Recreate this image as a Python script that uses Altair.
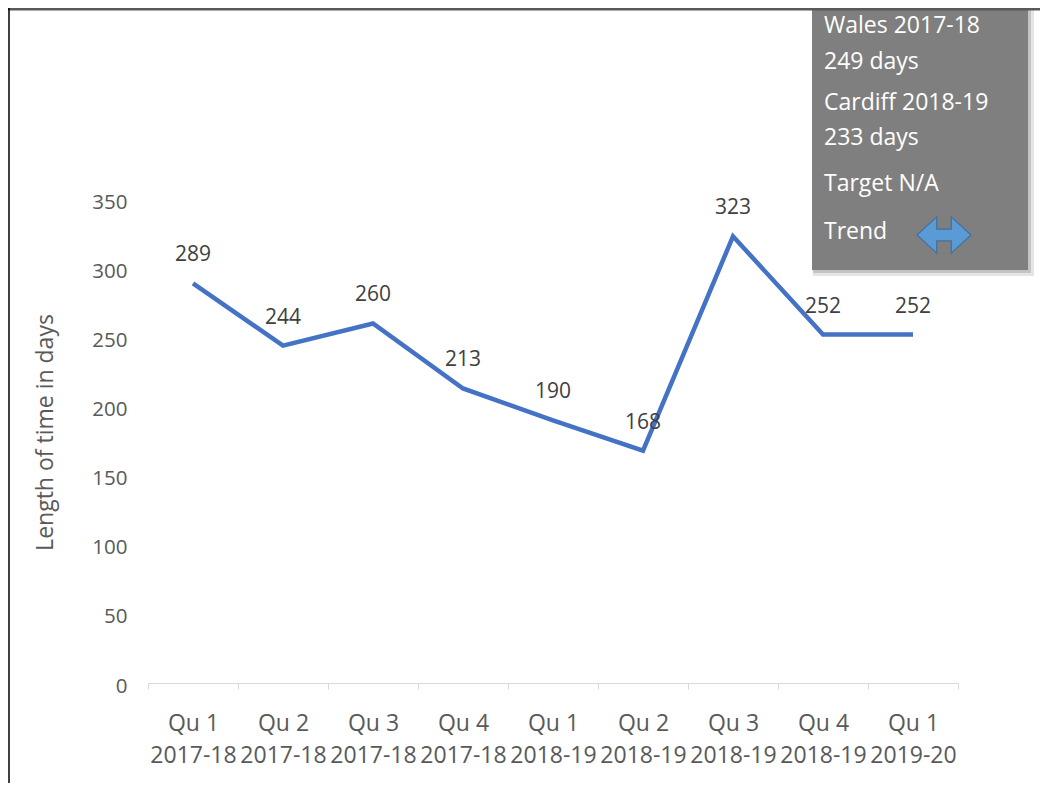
import altair as alt
import pandas as pd

periods = ["Qu 1|2017-18", "Qu 2|2017-18", "Qu 3|2017-18", "Qu 4|2017-18",
           "Qu 1|2018-19", "Qu 2|2018-19", "Qu 3|2018-19", "Qu 4|2018-19",
           "Qu 1|2019-20"]
days = [289, 244, 260, 213, 190, 168, 323, 252, 252]
y_ticks = [0, 50, 100, 150, 200, 250, 300, 350]
box_lines = ["Wales 2017-18", "249 days", "Cardiff 2018-19", "233 days",
             "Target N/A", "Trend"]

df = pd.DataFrame({"period": periods, "days": days})

FONT = "Open Sans"
W, H = 810, 484

x_enc = alt.X("period:N", sort=periods,
              scale=alt.Scale(type="band", paddingInner=0, paddingOuter=0),
              bandPosition=0.5,
              axis=alt.Axis(title=None, labelAngle=0,
                            labelExpr="split(datum.label, '|')",
                            labelLineHeight=32, labelFontSize=23,
                            labelColor="#595959", labelFont=FONT,
                            domainColor="#d9d9d9", tickColor="#d9d9d9",
                            tickSize=6, tickBand="extent", labelPadding=23,
                            labelBaseline="top"))
y_enc = alt.Y("days:Q", scale=alt.Scale(domain=[0, 350], nice=False),
              axis=alt.Axis(values=y_ticks, grid=False, domain=False,
                            ticks=False, labelPadding=21, labelFontSize=20.5,
                            labelOffset=3,
                            labelColor="#595959", labelFont=FONT,
                            title="Length of time in days", titleFontSize=23,
                            titleFont=FONT, titleColor="#595959",
                            titleFontWeight="normal", titleX=-103, titleY=233,
                            titleAngle=-90, titleAlign="center",
                            titleBaseline="middle"))

base = alt.Chart(df)
line = base.mark_line(color="#4472c4", strokeWidth=4.5).encode(x=x_enc, y=y_enc)
labels = base.mark_text(dy=-28, fontSize=21, font=FONT, color="#404040").encode(
    x=x_enc, y=y_enc, text="days:Q")

one = alt.Data(values=[{"k": 1}])
shadow1 = alt.Chart(one).mark_rect(color="#000000", opacity=0.10).encode(
    x=alt.value(665), x2=alt.value(886), y=alt.value(-191), y2=alt.value(77))
shadow2 = alt.Chart(one).mark_rect(color="#000000", opacity=0.14).encode(
    x=alt.value(665), x2=alt.value(883), y=alt.value(-191), y2=alt.value(74))
box = alt.Chart(one).mark_rect(color="#7f7f7f").encode(
    x=alt.value(664), x2=alt.value(880), y=alt.value(-191), y2=alt.value(71))

line_y = [-173, -137, -96, -61, -15, 33]
texts = []
for t, yy in zip(box_lines, line_y):
    texts.append(alt.Chart(alt.Data(values=[{"t": t}])).mark_text(
        align="left", baseline="middle", fontSize=23, font=FONT,
        color="#ffffff").encode(x=alt.value(676), y=alt.value(yy), text="t:N"))

arrow_path = ("M -1 0 L -0.27 -0.67 L -0.27 -0.22 L 0.27 -0.22 L 0.27 -0.67 "
              "L 1 0 L 0.27 0.67 L 0.27 0.22 L -0.27 0.22 L -0.27 0.67 Z")
arrow = alt.Chart(one).mark_point(shape=arrow_path, filled=True, fill="#5b9bd5",
                                  stroke="#41719c", strokeWidth=1.2, opacity=1,
                                  size=2916).encode(
    x=alt.value(796), y=alt.value(36))

top_border = alt.Chart(one).mark_rule(color="#595959", strokeWidth=3).encode(
    x=alt.value(-140), x2=alt.value(900), y=alt.value(-190))
left_border = alt.Chart(one).mark_rule(color="#000000", strokeWidth=1.5).encode(
    x=alt.value(-139), y=alt.value(-191), y2=alt.value(604))

chart = alt.layer(shadow1, shadow2, box, *texts, arrow, line, labels, top_border,
                  left_border).properties(
    width=W, height=H,
    autosize=alt.AutoSizeParams(type="none"),
    padding={"left": 140, "top": 191, "right": 82, "bottom": 100},
    background="#ffffff",
).configure_view(stroke=None)

chart.save("out.html", embed_options={"renderer": "svg", "actions": False})
